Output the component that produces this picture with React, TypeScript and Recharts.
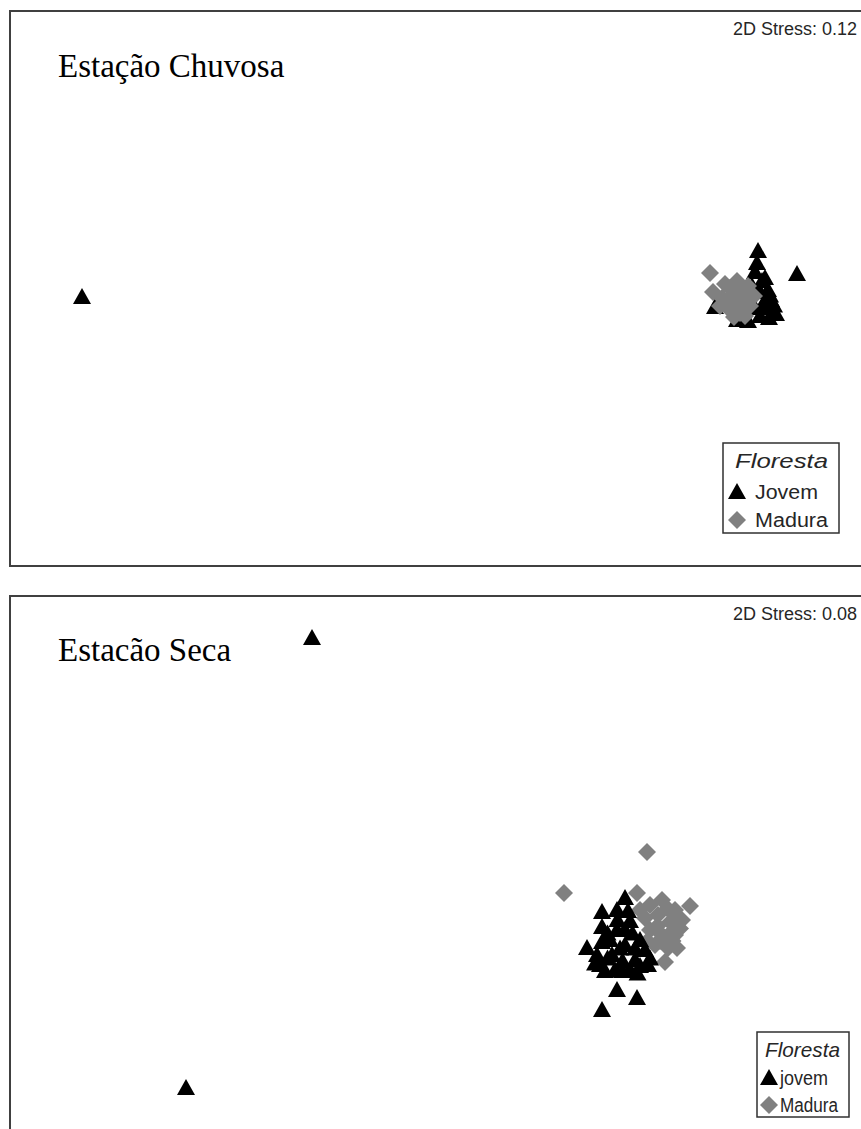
import React from 'react';
import { ScatterChart, Scatter, XAxis, YAxis } from 'recharts';

// NMDS scores (arbitrary units, 250px per unit)
const chuvosaJovem = [
  { x: -2.112, y: -0.036 },
  { x: 0.592, y: 0.148 }, { x: 0.588, y: 0.1 }, { x: 0.58, y: 0.064 },
  { x: 0.748, y: 0.056 }, { x: 0.608, y: 0.028 }, { x: 0.632, y: -0.008 },
  { x: 0.568, y: 0.008 }, { x: 0.6, y: -0.016 }, { x: 0.644, y: -0.048 },
  { x: 0.612, y: -0.064 }, { x: 0.664, y: -0.104 }, { x: 0.42, y: -0.076 },
  { x: 0.508, y: -0.128 }, { x: 0.552, y: -0.132 }, { x: 0.6, y: -0.112 },
  { x: 0.636, y: -0.12 }, { x: 0.58, y: -0.08 }, { x: 0.54, y: -0.048 },
  { x: 0.624, y: -0.08 }, { x: 0.62, y: 0.04 }, { x: 0.64, y: -0.03 },
  { x: 0.656, y: -0.07 }, { x: 0.528, y: -0.12 },
];
const chuvosaMadura = [
  { x: 0.4, y: 0.06 }, { x: 0.412, y: -0.016 }, { x: 0.46, y: 0.016 },
  { x: 0.508, y: 0.028 }, { x: 0.552, y: 0.008 }, { x: 0.448, y: -0.04 },
  { x: 0.492, y: -0.024 }, { x: 0.536, y: -0.032 }, { x: 0.576, y: -0.032 },
  { x: 0.472, y: -0.08 }, { x: 0.516, y: -0.08 }, { x: 0.56, y: -0.072 },
  { x: 0.496, y: -0.116 }, { x: 0.54, y: -0.112 }, { x: 0.44, y: -0.072 },
  { x: 0.48, y: 0.0 }, { x: 0.524, y: -0.004 }, { x: 0.468, y: -0.052 },
  { x: 0.512, y: -0.052 }, { x: 0.556, y: -0.05 }, { x: 0.52, y: -0.1 },
];
const secaJovem = [
  { x: -1.192, y: 0.912 }, { x: -1.696, y: -0.888 },
  { x: 0.06, y: -0.128 }, { x: -0.032, y: -0.184 }, { x: 0.028, y: -0.176 },
  { x: 0.072, y: -0.18 }, { x: -0.032, y: -0.244 }, { x: -0.092, y: -0.328 },
  { x: -0.032, y: -0.304 }, { x: 0.028, y: -0.256 }, { x: 0.008, y: -0.356 },
  { x: 0.06, y: -0.316 }, { x: 0.1, y: -0.376 }, { x: 0.14, y: -0.336 },
  { x: -0.04, y: -0.396 }, { x: 0.02, y: -0.416 }, { x: 0.08, y: -0.416 },
  { x: 0.152, y: -0.396 }, { x: 0.0, y: -0.296 }, { x: 0.06, y: -0.256 },
  { x: -0.052, y: -0.356 }, { x: 0.12, y: -0.296 },
  { x: 0.028, y: -0.496 }, { x: 0.108, y: -0.528 }, { x: -0.032, y: -0.576 },
  { x: 0.03, y: -0.216 }, { x: 0.08, y: -0.22 }, { x: -0.01, y: -0.27 },
  { x: 0.09, y: -0.27 }, { x: 0.04, y: -0.33 }, { x: 0.1, y: -0.33 },
  { x: -0.01, y: -0.37 }, { x: 0.05, y: -0.38 }, { x: 0.12, y: -0.4 },
  { x: -0.02, y: -0.42 }, { x: 0.05, y: -0.42 }, { x: 0.11, y: -0.43 },
  { x: -0.06, y: -0.39 }, { x: 0.16, y: -0.37 },
];
const secaMadura = [
  { x: 0.148, y: 0.056 }, { x: -0.184, y: -0.108 }, { x: 0.108, y: -0.108 },
  { x: 0.32, y: -0.16 }, { x: 0.16, y: -0.156 }, { x: 0.208, y: -0.136 },
  { x: 0.26, y: -0.176 }, { x: 0.14, y: -0.208 }, { x: 0.192, y: -0.196 },
  { x: 0.24, y: -0.224 }, { x: 0.288, y: -0.216 }, { x: 0.16, y: -0.256 },
  { x: 0.208, y: -0.276 }, { x: 0.26, y: -0.276 }, { x: 0.18, y: -0.316 },
  { x: 0.232, y: -0.328 }, { x: 0.268, y: -0.328 }, { x: 0.22, y: -0.384 },
  { x: 0.12, y: -0.176 }, { x: 0.23, y: -0.17 }, { x: 0.19, y: -0.24 },
  { x: 0.24, y: -0.27 }, { x: 0.2, y: -0.3 }, { x: 0.28, y: -0.25 },
  { x: 0.15, y: -0.3 }, { x: 0.25, y: -0.3 },
];

const BLACK = '#000000';
const GREY = '#808080';
const TEXT = '#262626';

const Triangle = ({ cx, cy }: any) => (
  <polygon points={`${cx},${cy - 9} ${cx - 9},${cy + 7} ${cx + 9},${cy + 7}`} fill={BLACK} />
);
const Diamond = ({ cx, cy }: any) => (
  <polygon points={`${cx},${cy - 9} ${cx + 9},${cy} ${cx},${cy + 9} ${cx - 9},${cy}`} fill={GREY} />
);

const Panel = ({ top, height, yDomain, jovem, madura, blackOnTop, title, stress, legend }: any) => {
  const jov = <Scatter key="j" data={jovem} shape={<Triangle />} isAnimationActive={false} />;
  const mad = <Scatter key="m" data={madura} shape={<Diamond />} isAnimationActive={false} />;
  return (
    <>
      <div style={{
        position: 'absolute', left: 9, top: top, width: 900, height: height + 1,
        border: '2px solid #404040', boxSizing: 'border-box', background: '#fff',
      }} />
      <div style={{ position: 'absolute', left: 10, top: top, width: 860, height }}>
        <ScatterChart width={860} height={height} margin={{ top: 0, right: 0, bottom: 0, left: 0 }}>
          <XAxis type="number" dataKey="x" domain={[-2.4, 1.04]} hide />
          <YAxis type="number" dataKey="y" domain={yDomain} hide />
          {blackOnTop ? [mad, jov] : [jov, mad]}
        </ScatterChart>
      </div>
      <svg width={861} height={height} style={{ position: 'absolute', left: 0, top: top, pointerEvents: 'none' }}>
        <text x={58} y={title.y} fontFamily="'Liberation Serif', 'Times New Roman', serif" fontSize={33} fill="#000">
          {title.text}
        </text>
        <text x={857} y={25} textAnchor="end" fontFamily="'Liberation Sans', Arial, sans-serif" fontSize={18} fill={TEXT}>
          {stress}
        </text>
        <rect x={legend.x} y={legend.y} width={legend.w} height={legend.h} fill="#fff" stroke="#303030" strokeWidth={1.5} />
        <text x={legend.x + legend.pad} y={legend.y + 25} fontFamily="'Liberation Sans', Arial, sans-serif"
          fontStyle="italic" fontSize={21} fill={TEXT} textLength={legend.tl[0]} lengthAdjust="spacingAndGlyphs">
          Floresta
        </text>
        <Triangle cx={legend.x + legend.mx} cy={legend.y + legend.r1 - 7} />
        <text x={legend.x + legend.tx} y={legend.y + legend.r1} fontFamily="'Liberation Sans', Arial, sans-serif"
          fontSize={20} fill={TEXT} textLength={legend.tl[1]} lengthAdjust="spacingAndGlyphs">
          {legend.labels[0]}
        </text>
        <Diamond cx={legend.x + legend.mx} cy={legend.y + legend.r2 - 7} />
        <text x={legend.x + legend.tx} y={legend.y + legend.r2} fontFamily="'Liberation Sans', Arial, sans-serif"
          fontSize={20} fill={TEXT} textLength={legend.tl[2]} lengthAdjust="spacingAndGlyphs">
          {legend.labels[1]}
        </text>
      </svg>
    </>
  );
};

export default function App() {
  return (
    <div style={{ position: 'absolute', left: 0, top: 0, width: 861, height: 1129, overflow: 'hidden', background: '#fff' }}>
      <Panel
        top={10}
        height={556}
        yDomain={[-1.112, 1.112]}
        jovem={chuvosaJovem}
        madura={chuvosaMadura}
        blackOnTop={false}
        title={{ text: 'Estação Chuvosa', y: 67 }}
        stress="2D Stress: 0.12"
        legend={{ x: 723, y: 433, w: 116, h: 90, pad: 12, mx: 14, tx: 32, r1: 56, r2: 84, tl: [93, 63, 73], labels: ['Jovem', 'Madura'] }}
      />
      <Panel
        top={595}
        height={540}
        yDomain={[-1.076, 1.084]}
        jovem={secaJovem}
        madura={secaMadura}
        blackOnTop={true}
        title={{ text: 'Estacão Seca', y: 66 }}
        stress="2D Stress: 0.08"
        legend={{ x: 757, y: 437, w: 92, h: 85, pad: 8, mx: 12, tx: 23, r1: 53, r2: 80, tl: [75, 48, 58], labels: ['jovem', 'Madura'] }}
      />
    </div>
  );
}
